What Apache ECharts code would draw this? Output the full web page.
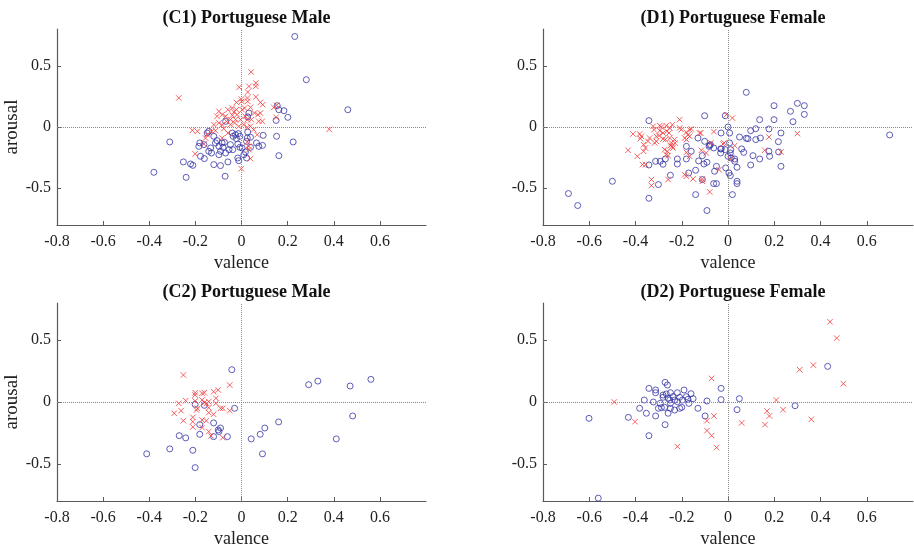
<!DOCTYPE html>
<html>
<head>
<meta charset="utf-8">
<script src="https://cdn.jsdelivr.net/npm/echarts@6/dist/echarts.min.js"></script>
<style>
  html, body { margin: 0; padding: 0; background: #fff; }
  #chart { width: 914px; height: 550px; }
</style>
</head>
<body>
<div id="chart"></div>
<script>
// Titulos de cada panel
const titulos = ['(C1) Portuguese Male', '(D1) Portuguese Female', '(C2) Portuguese Male', '(D2) Portuguese Female'];

// Etiquetas de los ejes
const xTickLabels = [-0.8, -0.6, -0.4, -0.2, 0, 0.2, 0.4, 0.6];
const xTickMarks = [-0.6, -0.4, -0.2, 0, 0.2, 0.4, 0.6];
const yTickLabels = [-0.5, 0, 0.5];

// C1 - [valence, arousal]
const c1Blue = [
    [-0.311, -0.122], [-0.380, -0.370], [-0.240, -0.411], [-0.252, -0.285], [-0.221, -0.302], [-0.211, -0.313],
    [-0.181, -0.130], [-0.185, -0.158], [-0.163, -0.144], [-0.178, -0.239], [-0.161, -0.258], [-0.142, -0.198],
    [-0.134, -0.171], [-0.120, -0.076], [-0.120, -0.307], [-0.106, -0.111], [-0.098, -0.158], [-0.091, -0.198],
    [-0.091, -0.315], [-0.074, -0.125], [-0.080, -0.166], [-0.069, -0.212], [-0.071, -0.402], [-0.069, 0.046],
    [-0.059, -0.285], [-0.054, -0.185], [-0.040, -0.049], [-0.036, -0.076], [-0.038, -0.185], [-0.026, -0.063],
    [-0.022, -0.095], [-0.016, -0.139], [-0.016, -0.253], [-0.012, -0.275], [-0.014, -0.054], [-0.007, -0.076],
    [-0.007, -0.166], [0.003, -0.171], [0.010, -0.226], [0.017, -0.204], [0.025, -0.090], [0.027, -0.041],
    [0.032, 0.114], [0.027, 0.082], [0.022, -0.117], [0.039, -0.084], [0.039, -0.166], [0.022, -0.253],
    [0.065, -0.130], [0.075, -0.158], [0.091, -0.150], [0.094, -0.068], [0.155, 0.174], [0.162, 0.141],
    [0.184, 0.133], [0.201, 0.079], [0.150, 0.054], [0.152, -0.076], [0.224, -0.122], [0.162, -0.234],
    [-0.149, -0.049], [-0.142, -0.035], [-0.048, -0.144], [-0.113, -0.130], [-0.098, -0.226], [-0.130, -0.212],
    [-0.084, -0.130], [0.231, 0.739], [0.281, 0.386], [0.461, 0.141]
];
const c1Red = [
    [-0.272, 0.237], [0.042, 0.449], [0.062, 0.359], [0.062, 0.332], [-0.010, 0.324], [0.032, 0.332],
    [0.027, 0.285], [0.062, 0.245], [-0.001, 0.228], [0.001, 0.209], [0.026, 0.237], [0.027, 0.209],
    [0.082, 0.201], [0.092, 0.182], [-0.022, 0.201], [-0.040, 0.155], [-0.022, 0.141], [-0.033, 0.122],
    [0.003, 0.141], [0.013, 0.155], [0.039, 0.160], [-0.059, 0.141], [-0.098, 0.128], [-0.084, 0.101],
    [-0.106, 0.087], [-0.069, 0.087], [-0.040, 0.095], [-0.019, 0.101], [0.017, 0.087], [0.056, 0.114],
    [0.071, 0.101], [0.082, 0.114], [0.152, 0.177], [0.150, 0.079], [-0.048, 0.060], [-0.026, 0.060],
    [-0.004, 0.060], [0.025, 0.060], [0.043, 0.060], [0.075, 0.046], [0.090, 0.046], [-0.120, 0.019],
    [-0.098, 0.033], [-0.084, 0.019], [-0.065, 0.046], [-0.048, 0.019], [-0.030, 0.033], [-0.012, 0.005],
    [0.010, 0.019], [0.025, -0.003], [0.039, 0.005], [0.053, -0.022], [0.068, -0.063], [-0.213, -0.027],
    [-0.191, -0.035], [-0.149, -0.063], [-0.156, -0.090], [-0.163, -0.139], [-0.084, -0.090], [-0.059, -0.049],
    [0.025, -0.122], [0.032, -0.158], [0.039, -0.258], [-0.201, -0.220], [-0.001, -0.340], [-0.130, -0.035],
    [-0.113, -0.030], [-0.077, -0.014], [0.140, 0.160], [0.380, -0.019], [0.032, -0.185]
];

// D1
const d1Blue = [
    [-0.690, -0.543], [-0.650, -0.641], [-0.500, -0.443], [-0.342, 0.052], [-0.342, -0.310], [-0.342, -0.582],
    [-0.301, -0.470], [-0.313, -0.280], [-0.293, -0.280], [-0.281, -0.304], [-0.271, -0.261], [-0.249, -0.394],
    [-0.219, -0.261], [-0.219, -0.302], [-0.180, -0.158], [-0.180, -0.261], [-0.170, -0.375], [-0.159, -0.198],
    [-0.140, -0.353], [-0.140, -0.552], [-0.130, -0.090], [-0.127, -0.277], [-0.111, -0.234], [-0.111, -0.429],
    [-0.104, -0.302], [-0.101, 0.092], [-0.101, -0.117], [-0.091, -0.288], [-0.091, -0.682], [-0.082, -0.158],
    [-0.079, -0.149], [-0.062, -0.171], [-0.062, -0.462], [-0.050, -0.462], [-0.058, -0.361], [-0.050, -0.321],
    [-0.030, -0.049], [-0.032, -0.212], [-0.029, -0.179], [-0.012, 0.092], [-0.012, -0.185], [-0.010, -0.334],
    [0.000, 0.000], [0.000, -0.239], [0.004, -0.375], [0.007, -0.049], [0.007, -0.130], [0.010, -0.212],
    [0.010, -0.397], [0.019, -0.552], [0.029, -0.261], [0.029, -0.280], [0.039, -0.329], [0.039, -0.443],
    [0.039, -0.462], [0.050, -0.082], [0.059, -0.179], [0.068, -0.207], [0.079, 0.283], [0.079, -0.092],
    [0.086, -0.095], [0.098, -0.310], [0.098, -0.030], [0.108, -0.234], [0.120, -0.014], [0.120, -0.103],
    [0.137, 0.060], [0.137, -0.261], [0.140, -0.090], [0.177, -0.016], [0.177, -0.198], [0.180, -0.239],
    [0.199, 0.174], [0.199, 0.060], [0.218, -0.120], [0.219, -0.204], [0.229, -0.049], [0.229, -0.321],
    [0.270, 0.128], [0.281, 0.043], [0.300, 0.193], [0.330, 0.174], [0.330, 0.103], [0.699, -0.065],
    [0.014, -0.253], [0.012, -0.185], [-0.076, -0.144], [-0.032, -0.179]
];
const d1Red = [
    [-0.432, -0.190], [-0.411, -0.057], [-0.392, -0.239], [-0.382, -0.057], [-0.375, -0.076], [-0.379, -0.095],
    [-0.365, -0.144], [-0.357, -0.171], [-0.365, -0.198], [-0.370, -0.307], [-0.356, -0.307], [-0.331, -0.429],
    [-0.331, -0.478], [-0.346, -0.117], [-0.339, -0.090], [-0.324, 0.005], [-0.320, -0.022], [-0.317, -0.130],
    [-0.310, -0.117], [-0.310, -0.076], [-0.298, -0.071], [-0.295, 0.011], [-0.288, 0.000], [-0.295, -0.030],
    [-0.281, -0.049], [-0.281, -0.098], [-0.271, -0.103], [-0.274, -0.185], [-0.262, -0.198], [-0.267, -0.226],
    [-0.259, -0.234], [-0.259, -0.429], [-0.264, -0.035], [-0.255, -0.049], [-0.252, -0.090], [-0.245, -0.130],
    [-0.241, -0.158], [-0.238, -0.171], [-0.249, -0.152], [-0.231, -0.103], [-0.229, -0.130], [-0.241, 0.019],
    [-0.209, 0.060], [-0.209, -0.008], [-0.202, -0.022], [-0.187, -0.090], [-0.180, -0.103], [-0.180, -0.043],
    [-0.173, -0.063], [-0.166, -0.022], [-0.159, -0.016], [-0.166, -0.076], [-0.180, -0.207], [-0.166, -0.239],
    [-0.187, -0.389], [-0.180, -0.402], [-0.151, -0.424], [-0.111, -0.424], [-0.111, -0.443], [-0.123, -0.049],
    [-0.115, -0.190], [-0.094, -0.212], [-0.079, -0.530], [-0.074, -0.130], [-0.061, -0.038], [-0.017, -0.130],
    [-0.007, 0.101], [0.019, 0.073], [0.010, -0.261], [0.029, -0.152], [0.159, -0.190], [0.177, -0.082],
    [0.229, -0.204], [0.300, -0.054], [-0.267, 0.011], [-0.252, -0.008], [-0.039, -0.348], [-0.022, -0.139],
    [-0.118, -0.049]
];

// C2
const c2Blue = [
    [-0.411, -0.419], [-0.311, -0.379], [-0.270, -0.272], [-0.242, -0.290], [-0.211, -0.390], [-0.201, -0.530],
    [-0.201, -0.019], [-0.181, -0.183], [-0.181, -0.261], [-0.161, -0.027], [-0.121, -0.169], [-0.121, -0.280],
    [-0.101, -0.226], [-0.098, -0.239], [-0.091, -0.210], [-0.061, -0.280], [-0.042, 0.261], [-0.030, -0.051],
    [0.042, -0.298], [0.081, -0.261], [0.091, -0.419], [0.101, -0.210], [0.161, -0.161], [0.291, 0.140],
    [0.331, 0.169], [0.411, -0.298], [0.471, 0.129], [0.482, -0.113], [0.561, 0.183]
];
const c2Red = [
    [-0.252, 0.218], [-0.272, -0.011], [-0.242, 0.011], [-0.262, -0.070], [-0.292, -0.091], [-0.252, -0.151],
    [-0.211, -0.124], [-0.211, -0.159], [-0.211, -0.202], [-0.201, 0.075], [-0.201, 0.056], [-0.201, 0.008],
    [-0.191, -0.051], [-0.195, -0.065], [-0.171, 0.070], [-0.161, 0.075], [-0.171, 0.016], [-0.152, -0.011],
    [-0.142, 0.003], [-0.142, -0.046], [-0.171, -0.145], [-0.153, -0.151], [-0.171, -0.207], [-0.142, -0.086],
    [-0.121, 0.083], [-0.101, 0.097], [-0.111, 0.030], [-0.111, -0.011], [-0.121, -0.099], [-0.091, -0.051],
    [-0.081, -0.051], [-0.142, -0.239], [-0.132, -0.274], [-0.081, -0.288], [-0.051, 0.137], [-0.051, -0.070],
    [-0.161, -0.005]
];

// D2
const d2Blue = [
    [-0.601, -0.132], [-0.561, -0.777], [-0.431, -0.124], [-0.382, -0.051], [-0.362, 0.016], [-0.353, -0.091],
    [-0.342, 0.110], [-0.342, -0.272], [-0.323, 0.000], [-0.313, 0.097], [-0.313, 0.075], [-0.313, -0.113],
    [-0.301, -0.051], [-0.293, -0.011], [-0.281, 0.056], [-0.281, 0.038], [-0.288, -0.046], [-0.274, -0.043],
    [-0.272, 0.159], [-0.272, -0.183], [-0.262, 0.137], [-0.267, 0.065], [-0.259, 0.030], [-0.259, -0.091],
    [-0.252, 0.016], [-0.249, -0.011], [-0.249, 0.075], [-0.249, -0.051], [-0.238, 0.043], [-0.231, 0.016],
    [-0.231, -0.065], [-0.219, 0.075], [-0.219, 0.003], [-0.209, 0.038], [-0.209, -0.051], [-0.200, -0.043],
    [-0.197, 0.016], [-0.190, 0.097], [-0.180, 0.043], [-0.173, 0.022], [-0.169, -0.011], [-0.160, 0.067],
    [-0.151, 0.027], [-0.130, -0.051], [-0.099, -0.113], [-0.091, 0.008], [-0.030, 0.110], [-0.030, 0.019],
    [0.039, -0.062], [0.049, 0.027], [0.290, -0.030], [0.431, 0.288]
];
const d2Red = [
    [0.441, 0.648], [0.470, 0.516], [0.369, 0.298], [0.310, 0.261], [0.499, 0.148], [0.209, 0.016],
    [0.169, -0.073], [0.179, -0.113], [0.238, -0.062], [0.160, -0.183], [0.360, -0.140], [0.059, -0.169],
    [-0.071, 0.191], [-0.061, -0.113], [-0.091, -0.151], [-0.091, -0.231], [-0.071, -0.272], [-0.050, -0.368],
    [-0.219, -0.360], [-0.402, -0.159], [-0.492, 0.000]
];

const paneles = [
    { azul: c1Blue, rojo: c1Red },
    { azul: d1Blue, rojo: d1Red },
    { azul: c2Blue, rojo: c2Red },
    { azul: d2Blue, rojo: d2Red }
];

const fuente = 'Liberation Serif';
const colorEje = '#5a5a5a';
const colorAzul = '#3636a6';
const colorRojo = '#f23a3a';

const grids = [
    { left: 57, top: 29, width: 369, height: 196 },
    { left: 543, top: 29, width: 370, height: 196 },
    { left: 57, top: 303, width: 369, height: 198 },
    { left: 543, top: 303, width: 370, height: 198 }
];

const formatoNumero = v => String(Math.round(v * 10) / 10);

function crearOpciones() {
    const title = [];
    const xAxis = [];
    const yAxis = [];
    const series = [];

    grids.forEach((g, i) => {
        title.push({
            text: titulos[i],
            left: g.left + g.width / 2,
            top: g.top - 25,
            textAlign: 'center',
            textStyle: { fontFamily: fuente, fontSize: 18, fontWeight: 'bold', color: '#111' }
        });

        xAxis.push({
            gridIndex: i,
            type: 'value',
            min: -0.8,
            max: 0.8,
            name: 'valence',
            nameLocation: 'middle',
            nameGap: 29,
            nameTextStyle: { fontFamily: fuente, fontSize: 18, color: '#222' },
            axisLine: { onZero: false, lineStyle: { color: colorEje, width: 1.2 } },
            axisTick: { inside: true, length: 4, customValues: xTickMarks, lineStyle: { color: colorEje } },
            axisLabel: { customValues: xTickLabels, formatter: formatoNumero, margin: 9,
                fontFamily: fuente, fontSize: 16, color: '#222' },
            splitLine: { show: false }
        });

        // solo los paneles de la izquierda llevan nombre en el eje y
        yAxis.push({
            gridIndex: i,
            type: 'value',
            min: -0.8,
            max: 0.8,
            name: i % 2 === 0 ? 'arousal' : '',
            nameLocation: 'middle',
            nameGap: 30,
            nameRotate: 90,
            nameTextStyle: { fontFamily: fuente, fontSize: 19, color: '#222' },
            axisLine: { onZero: false, lineStyle: { color: colorEje, width: 1.2 } },
            axisTick: { inside: true, length: 4, customValues: yTickLabels, lineStyle: { color: colorEje } },
            axisLabel: { customValues: yTickLabels, formatter: formatoNumero, margin: 6,
                fontFamily: fuente, fontSize: 16, color: '#222' },
            splitLine: { show: false }
        });

        // circulos azules
        series.push({
            type: 'scatter',
            xAxisIndex: i,
            yAxisIndex: i,
            data: paneles[i].azul,
            symbol: 'circle',
            symbolSize: 6,
            itemStyle: { color: 'rgba(0,0,0,0)', borderColor: colorAzul, borderWidth: 1 },
            markLine: {
                silent: true,
                symbol: 'none',
                label: { show: false },
                lineStyle: { type: 'dotted', color: '#8a8a8a', width: 1 },
                data: [{ xAxis: 0 }, { yAxis: 0 }]
            },
            z: 3
        });

        // cruces rojas
        series.push({
            type: 'scatter',
            xAxisIndex: i,
            yAxisIndex: i,
            data: paneles[i].rojo,
            symbol: 'path://M0,0L10,10M0,10L10,0',
            symbolSize: 5.5,
            itemStyle: { color: 'rgba(0,0,0,0)', borderColor: colorRojo, borderWidth: 1 },
            z: 4
        });
    });

    return { animation: false, backgroundColor: '#fff', title, grid: grids, xAxis, yAxis, series };
}

document.addEventListener('DOMContentLoaded', () => {
    const grafico = echarts.init(document.getElementById('chart'));
    grafico.setOption(crearOpciones());
});
</script>
</body>
</html>
